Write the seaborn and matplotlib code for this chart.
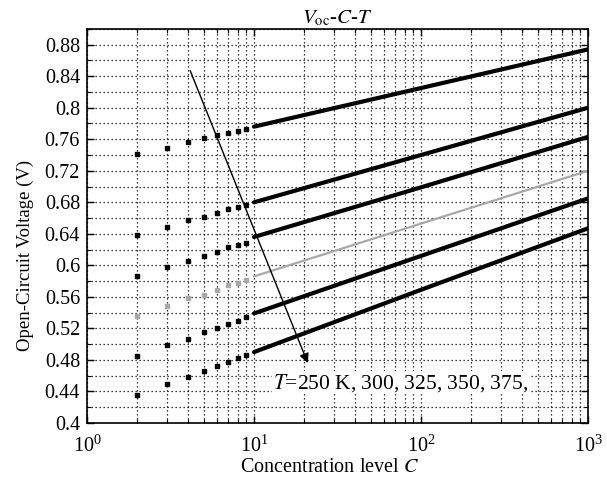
import matplotlib
matplotlib.use("Agg")
import matplotlib.pyplot as plt
import matplotlib.ticker as mticker
import seaborn as sns
import pandas as pd

# ---- data ----
temps = ["250 K", "300 K", "325 K", "350 K", "375 K", "400 K"]

C_sparse = [2, 3, 4, 5, 6, 7, 8, 9]
V250_sparse = [0.741, 0.749, 0.756, 0.761, 0.765, 0.768, 0.771, 0.773]
V300_sparse = [0.638, 0.649, 0.657, 0.661, 0.667, 0.671, 0.674, 0.677]
V325_sparse = [0.586, 0.598, 0.606, 0.612, 0.617, 0.623, 0.626, 0.628]
V350_sparse = [0.536, 0.549, 0.558, 0.563, 0.569, 0.575, 0.578, 0.581]
V375_sparse = [0.485, 0.499, 0.507, 0.515, 0.521, 0.526, 0.530, 0.535]
V400_sparse = [0.435, 0.449, 0.458, 0.466, 0.472, 0.477, 0.482, 0.486]

C_dense = [10, 100, 1000]
V250_dense = [0.776, 0.825, 0.874]
V300_dense = [0.680, 0.740, 0.800]
V325_dense = [0.636, 0.699, 0.763]
V350_dense = [0.586, 0.653, 0.720]
V375_dense = [0.539, 0.612, 0.685]
V400_dense = [0.490, 0.569, 0.647]

sparse_vals = [V250_sparse, V300_sparse, V325_sparse, V350_sparse, V375_sparse, V400_sparse]
dense_vals = [V250_dense, V300_dense, V325_dense, V350_dense, V375_dense, V400_dense]

y_ticks = [0.4, 0.44, 0.48, 0.52, 0.56, 0.6, 0.64, 0.68, 0.72, 0.76, 0.8, 0.84, 0.88]
y_tick_labels = ["0.4", "0.44", "0.48", "0.52", "0.56", "0.6", "0.64", "0.68",
                 "0.72", "0.76", "0.8", "0.84", "0.88"]

colors = {"250 K": "black", "300 K": "black", "325 K": "black",
          "350 K": "#a8a8a8", "375 K": "black", "400 K": "black"}

rows_s, rows_d = [], []
for t, sv, dv in zip(temps, sparse_vals, dense_vals):
    for c, v in zip(C_sparse, sv):
        rows_s.append({"C": c, "V": v, "T": t})
    for c, v in zip(C_dense, dv):
        rows_d.append({"C": c, "V": v, "T": t})
df_s = pd.DataFrame(rows_s)
df_d = pd.DataFrame(rows_d)

# ---- style ----
sns.set_theme(style="ticks")
plt.rcParams["font.family"] = ["Liberation Serif", "DejaVu Serif"]
plt.rcParams["mathtext.fontset"] = "stix"
plt.rcParams["xtick.direction"] = "in"
plt.rcParams["ytick.direction"] = "in"

fig = plt.figure(figsize=(6.07, 4.82), dpi=100)
ax = fig.add_axes([0.1433, 0.1224, 0.8254, 0.8176])

for t in temps:
    col = colors[t]
    lw = 1.6 if t == "350 K" else 3.0
    ms = 2.2 if t == "350 K" else 3.0
    sub_d = df_d[df_d["T"] == t]
    sub_s = df_s[df_s["T"] == t]
    sns.lineplot(data=sub_d, x="C", y="V", ax=ax, color=col, lw=lw,
                 legend=False, estimator=None)
    ax.plot(sub_s["C"], sub_s["V"], ls="none", marker="s", ms=ms,
            color=col, mec=col)

ax.set_xscale("log")
ax.set_xlim(1, 1000)
ax.set_ylim(0.4, 0.9)
ax.set_yticks(y_ticks)
ax.set_yticklabels(y_tick_labels)
ax.yaxis.set_minor_locator(mticker.MultipleLocator(0.02))
ax.xaxis.set_minor_locator(mticker.LogLocator(base=10, subs=range(2, 10), numticks=20))
ax.xaxis.set_minor_formatter(mticker.NullFormatter())

ax.tick_params(which="both", top=True, right=True, direction="in",
               labelsize=14.5, color="black", labelcolor="black")
ax.tick_params(axis="x", which="major", pad=9)
ax.tick_params(axis="y", which="major", pad=5)
ax.tick_params(which="major", length=5, width=1)
ax.tick_params(which="minor", length=3, width=0.8)
for sp in ax.spines.values():
    sp.set_color("black")
    sp.set_linewidth(1.2)

ax.grid(True, which="both", ls=(0, (1, 2.2)), lw=0.9, color="black")
ax.set_axisbelow(True)

ax.set_xlabel("Concentration level $C$", fontsize=14.5, color="black")
ax.xaxis.set_label_coords(0.485, -0.088)
ax.set_ylabel("Open-Circuit Voltage (V)", fontsize=13.5, color="black")
ax.yaxis.set_label_coords(-0.106, 0.426)
ax.set_title(r"$V_{\mathrm{oc}}$-$C$-$T$", fontsize=15, color="black", pad=4)

ax.annotate("", xy=(21, 0.476), xytext=(4.15, 0.847),
            arrowprops=dict(arrowstyle="-|>", color="black", lw=1.0,
                            mutation_scale=14, shrinkA=0, shrinkB=0))
ax.text(13, 0.451, "$T$=250 K, 300, 325, 350, 375,", fontsize=15.5,
        color="black", va="center", ha="left",
        bbox=dict(facecolor="white", edgecolor="none", pad=0.5))

fig.savefig("out.png", dpi=100)
